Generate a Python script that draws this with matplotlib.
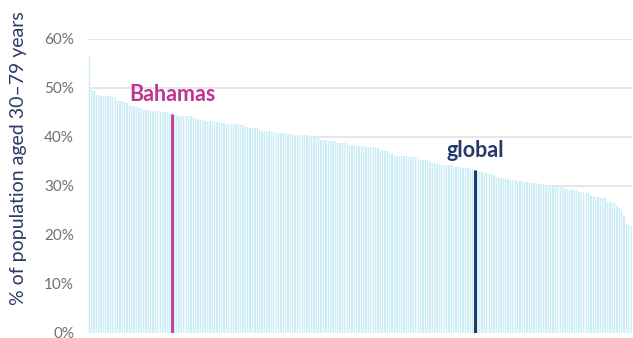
import numpy as np
import matplotlib
matplotlib.use("Agg")
import matplotlib.pyplot as plt

# prevalence (% of population aged 30-79) for each country, sorted high -> low
countries = (
    [56.5, 49.5, 49.3]
    + [48.5, 48.5, 48.4, 48.4, 48.3, 48.3, 48.3, 48.2, 48.2]
    + [47.6, 47.4, 47.3, 47.1, 47.0]
    + [46.6, 46.4, 46.3, 46.1, 46.0, 45.9]
    + [45.6, 45.5, 45.4, 45.3, 45.3, 45.2, 45.2, 45.2, 45.1, 45.1]
    + [45.0, 44.9]
    + [44.4, 44.4, 44.3, 44.3, 44.3, 44.2, 44.2, 44.2]
    + [44.0, 43.8, 43.6]
    + [43.4, 43.4, 43.3, 43.3, 43.2, 43.2]
    + [43.0, 43.0, 42.9, 42.9, 42.9]
    + [42.7, 42.7, 42.6, 42.6, 42.6, 42.5, 42.5, 42.5]
    + [42.0, 42.0, 41.9, 41.9, 41.8, 41.8]
    + [41.4, 41.3, 41.3, 41.2, 41.2]
    + [41.0, 41.0, 40.9, 40.9, 40.8, 40.8, 40.8, 40.7, 40.7]
    + [40.5, 40.5, 40.4, 40.4, 40.4, 40.3, 40.3, 40.3]
    + [39.9, 39.9, 39.8, 39.8]
    + [39.4, 39.3, 39.3, 39.2, 39.2, 39.1]
    + [38.9, 38.9, 38.8, 38.8, 38.7, 38.7]
    + [38.3, 38.3, 38.3, 38.2, 38.2, 38.2, 38.2]
    + [38.0, 38.0, 37.9, 37.9, 37.8, 37.8]
    + [37.4, 37.3, 37.2, 37.1]
    + [36.8, 36.6]
    + [36.2, 36.2, 36.1, 36.1, 36.1, 36.1, 36.0, 36.0, 36.0, 36.0]
    + [35.5, 35.4, 35.3, 35.3, 35.2]
    + [34.8, 34.7, 34.6]
    + [34.4, 34.4, 34.3, 34.3, 34.3, 34.2, 34.2]
    + [34.0, 33.9, 33.9, 33.8, 33.7, 33.7, 33.6, 33.5, 33.5]
    + [33.0, 32.9, 32.8, 32.7, 32.6, 32.5, 32.4, 32.3]
    + [31.9, 31.8, 31.7, 31.6, 31.5, 31.4, 31.3, 31.3, 31.2, 31.1, 31.0, 31.0, 30.9, 30.8, 30.8, 30.7]
    + [30.6, 30.6, 30.5, 30.5, 30.5]
    + [30.0, 30.0, 29.9, 29.9, 29.8, 29.8, 29.7, 29.7]
    + [29.3, 29.3, 29.2, 29.2, 29.1, 29.1]
    + [28.8, 28.7, 28.6, 28.6, 28.5]
    + [28.0, 27.9, 27.8, 27.7, 27.6, 27.6, 27.5]
    + [26.8, 26.7, 26.6, 26.5]
    + [26.0, 25.6, 25.0, 23.8, 22.5, 22.0, 21.8]
)
bahamas = 44.7
global_value = 33.3

values = np.array(sorted(countries + [bahamas, global_value], reverse=True))
x = np.arange(len(values))
i_bah = int(np.where(values == bahamas)[0][0])
i_glob = int(np.where(values == global_value)[0][0])

fig = plt.figure(figsize=(6.33, 3.38), dpi=100)
ax = fig.add_axes([0.139, 0.0148, 0.86, 0.870])

ax.bar(x, values, width=0.55, color="#cdedf7", zorder=2)
ax.bar(x, values, width=1.0, color="#f0fafd", zorder=1)

ax.vlines(i_bah, 0, bahamas, color="#c2479a", lw=2.2, zorder=3)
ax.vlines(i_glob, 0, global_value, color="#203a6c", lw=2.2, zorder=3)
ax.text(i_bah, bahamas + 2.7, "Bahamas", color="#c0338f", fontsize=15.5,
        fontweight="bold", family="Lato", ha="center", va="baseline")
ax.text(i_glob, global_value + 2.6, "global", color="#283a6b", fontsize=15.5,
        fontweight="bold", family="Lato", ha="center", va="baseline")

ax.set_xlim(-0.5, len(values) - 0.5)
ax.set_ylim(0, 60)
ax.set_yticks(np.arange(0, 61, 10))
ax.set_yticklabels([f"{t}%" for t in range(0, 61, 10)], family="Lato",
                   fontsize=11, color="#707070")
ax.set_xticks([])
ax.tick_params(axis="y", length=0, pad=10)
ax.grid(axis="y", color="#e2e2e2", lw=1.2, zorder=0)
ax.set_axisbelow(True)
for s in ax.spines.values():
    s.set_visible(False)

ax.set_ylabel("% of population aged 30\u201379 years", family="Lato",
              fontsize=14, color="#2b3a67")
ax.yaxis.set_label_coords(-0.112, 0.595)

fig.savefig("out.png", dpi=100)
